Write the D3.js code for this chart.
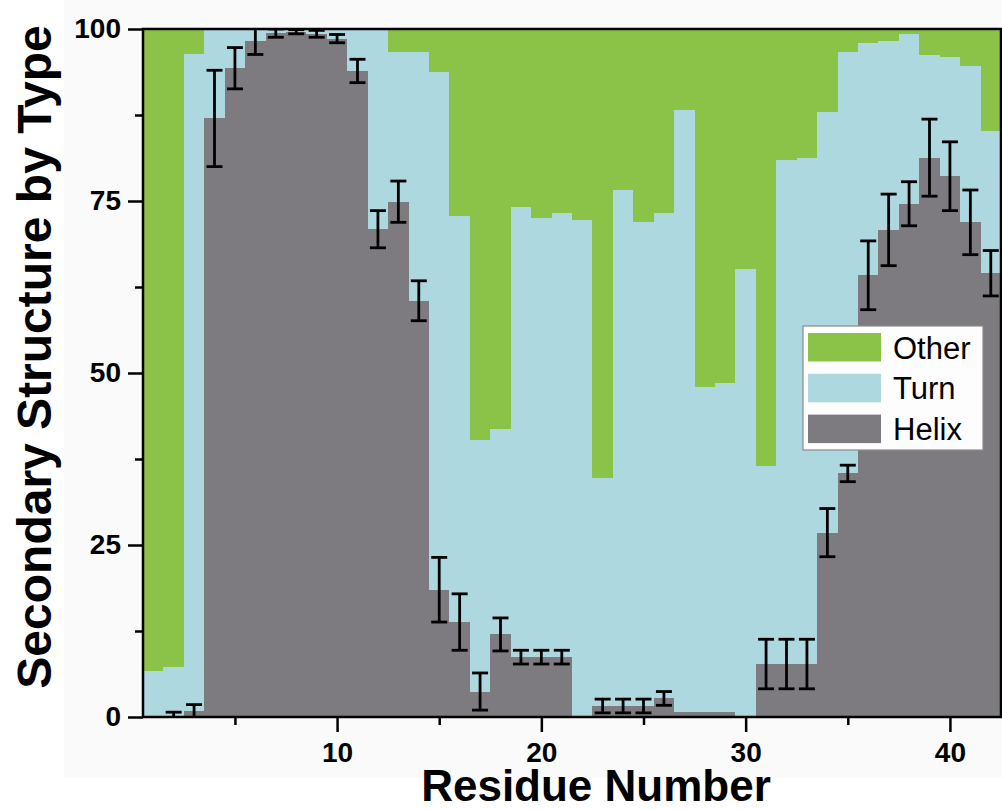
<!DOCTYPE html>
<html>
<head>
<meta charset="utf-8">
<script src="https://cdn.jsdelivr.net/npm/d3@7"></script>
<style>
  html, body { margin: 0; padding: 0; background: #ffffff; }
  svg { display: block; font-family: "Liberation Sans", Arial, sans-serif; }
</style>
</head>
<body>
<svg id="chart" width="1002" height="810"></svg>
<script>
// Residue numbers along the peptide
const residues = [1,2,3,4,5,6,7,8,9,10,11,12,13,14,15,16,17,18,19,20,21,
                  22,23,24,25,26,27,28,29,30,31,32,33,34,35,36,37,38,39,40,41,42];

// Percentage of each secondary-structure type per residue
const helix = [0, 0.2, 0.8, 87.0, 94.3, 98.3, 99.4, 99.6, 99.3, 98.6, 93.9, 70.9, 74.9, 60.5,
               18.5, 13.8, 3.7, 12.0, 8.7, 8.7, 8.7, 0, 1.6, 1.6, 1.6, 2.7, 0.7, 0.7,
               0.7, 0, 7.7, 7.7, 7.7, 26.8, 35.4, 64.2, 70.8, 74.6, 81.3, 78.6, 71.9, 64.5];
const turn = [6.7, 7.1, 95.5, 13.0, 5.7, 1.7, 0.6, 0.4, 0.7, 1.4, 6.1, 29.1, 21.8, 36.1,
              75.2, 59.0, 36.5, 29.8, 65.5, 63.9, 64.5, 72.2, 33.2, 75.0, 70.4, 70.6, 87.5, 47.2,
              47.8, 65.1, 28.8, 73.2, 73.6, 61.1, 61.2, 33.7, 27.4, 24.7, 14.9, 17.3, 22.7, 20.7];
const other = [93.3, 92.7, 3.7, 0, 0, 0, 0, 0, 0, 0, 0, 0, 3.3, 3.4,
               6.3, 27.2, 59.8, 58.2, 25.8, 27.4, 26.8, 27.8, 65.2, 23.4, 28.0, 26.7, 11.8, 52.1,
               51.5, 34.9, 63.5, 19.1, 18.7, 12.1, 3.4, 2.1, 1.8, 0.7, 3.8, 4.1, 5.4, 14.8];
// Standard error of the helix fraction
const helixErr = [0, 0.5, 1.0, 7.0, 3.0, 2.0, 0.6, 0.3, 0.5, 0.6, 1.7, 2.7, 3.0, 2.9,
                  4.7, 4.1, 2.7, 2.4, 1.0, 1.0, 1.0, 0, 1.0, 1.0, 1.0, 1.0, 0, 0,
                  0, 0, 3.6, 3.6, 3.6, 3.5, 1.2, 5.0, 5.2, 3.2, 5.6, 5.0, 4.7, 3.3];

const seriesKeys = ["Helix", "Turn", "Other"];
const legendOrder = ["Other", "Turn", "Helix"];
const yTicks = [0, 25, 50, 75, 100];
const yMinorTicks = [12.5, 37.5, 62.5, 87.5];
const xTicks = [10, 20, 30, 40];
const xMinorTicks = [5, 15, 25, 35];

const colors = { Helix: "#7d7b80", Turn: "#add8e0", Other: "#8bc248" };

const rows = residues.map((r, i) => ({
  residue: r, Helix: helix[i], Turn: turn[i], Other: other[i], err: helixErr[i]
}));

const svg = d3.select("#chart");
const plotLeft = 143, plotRight = 1001, plotTop = 29, plotBottom = 717;

const x = d3.scaleLinear().domain([0.5, 42.5]).range([plotLeft, plotRight]);
const y = d3.scaleLinear().domain([0, 100]).range([plotBottom, plotTop]);

// light backdrop behind the figure
svg.append("rect").attr("x", 64).attr("y", 0).attr("width", 1002 - 64).attr("height", 778)
  .attr("fill", "#fafafa");

svg.append("clipPath").attr("id", "plotClip")
  .append("rect").attr("x", plotLeft).attr("y", plotTop)
  .attr("width", plotRight - plotLeft).attr("height", plotBottom - plotTop);

const plot = svg.append("g").attr("clip-path", "url(#plotClip)");

// stacked bars, edge to edge
const stacked = d3.stack().keys(seriesKeys)(rows);
plot.selectAll("g.layer").data(stacked).join("g")
  .attr("class", "layer")
  .attr("fill", d => colors[d.key])
  .attr("shape-rendering", "crispEdges")
  .selectAll("rect").data(d => d).join("rect")
  .attr("x", d => Math.round(x(d.data.residue - 0.5)))
  .attr("width", d => Math.round(x(d.data.residue + 0.5)) - Math.round(x(d.data.residue - 0.5)))
  .attr("y", d => y(d[1]))
  .attr("height", d => Math.max(0, y(d[0]) - y(d[1])));

// helix error bars
const errRows = rows.filter(d => d.err > 0);
const eb = plot.append("g").attr("stroke", "#000").attr("stroke-width", 2.8).attr("fill", "none");
const capHalf = 8;
eb.selectAll("line.stem").data(errRows).join("line").attr("class", "stem")
  .attr("x1", d => x(d.residue)).attr("x2", d => x(d.residue))
  .attr("y1", d => y(d.Helix - d.err)).attr("y2", d => y(d.Helix + d.err));
eb.selectAll("line.capTop").data(errRows).join("line").attr("class", "capTop")
  .attr("x1", d => x(d.residue) - capHalf).attr("x2", d => x(d.residue) + capHalf)
  .attr("y1", d => y(d.Helix + d.err)).attr("y2", d => y(d.Helix + d.err));
eb.selectAll("line.capBot").data(errRows).join("line").attr("class", "capBot")
  .attr("x1", d => x(d.residue) - capHalf).attr("x2", d => x(d.residue) + capHalf)
  .attr("y1", d => y(d.Helix - d.err)).attr("y2", d => y(d.Helix - d.err));

// axes
const tickFont = g => g.selectAll("text")
  .attr("font-size", 28).attr("font-weight", "bold").attr("fill", "#000")
  .attr("font-family", "'Liberation Sans', Arial, sans-serif");
const tickStroke = g => g.selectAll("line").attr("stroke", "#000").attr("stroke-width", 2.5);

const yAxis = svg.append("g").attr("transform", `translate(${plotLeft},0)`)
  .call(d3.axisLeft(y).tickValues(yTicks).tickSize(15).tickPadding(7).tickFormat(d3.format("d")));
yAxis.select(".domain").remove();
yAxis.call(tickFont).call(tickStroke);

const yMinor = svg.append("g").attr("transform", `translate(${plotLeft},0)`)
  .call(d3.axisLeft(y).tickValues(yMinorTicks).tickSize(8).tickFormat(""));
yMinor.select(".domain").remove();
yMinor.call(tickStroke);

const xAxis = svg.append("g").attr("transform", `translate(0,${plotBottom})`)
  .call(d3.axisBottom(x).tickValues(xTicks).tickSize(15).tickPadding(10).tickFormat(d3.format("d")));
xAxis.select(".domain").remove();
xAxis.call(tickFont).call(tickStroke);

const xMinor = svg.append("g").attr("transform", `translate(0,${plotBottom})`)
  .call(d3.axisBottom(x).tickValues(xMinorTicks).tickSize(8).tickFormat(""));
xMinor.select(".domain").remove();
xMinor.call(tickStroke);

// frame
svg.append("rect").attr("x", plotLeft).attr("y", plotTop)
  .attr("width", plotRight - plotLeft).attr("height", plotBottom - plotTop)
  .attr("fill", "none").attr("stroke", "#000").attr("stroke-width", 2.5);

// axis titles
svg.append("text")
  .attr("transform", `translate(51,357) rotate(-90)`)
  .attr("text-anchor", "middle")
  .attr("font-size", 48).attr("font-weight", "bold").attr("fill", "#000")
  .text("Secondary Structure by Type");

svg.append("text")
  .attr("x", 596).attr("y", 801)
  .attr("text-anchor", "middle")
  .attr("font-size", 44).attr("font-weight", "bold").attr("fill", "#000")
  .text("Residue Number");

// legend
const legend = svg.append("g");
legend.append("rect").attr("x", 803).attr("y", 326).attr("width", 180).attr("height", 124)
  .attr("fill", "#fdfdfd").attr("stroke", "#8a8a8a").attr("stroke-width", 1.2);
const legendRows = legend.selectAll("g.item").data(legendOrder).join("g")
  .attr("class", "item")
  .attr("transform", (d, i) => `translate(808,${333 + i * 40.8})`);
legendRows.append("rect").attr("width", 73).attr("height", 28.5).attr("fill", d => colors[d]);
legendRows.append("text").attr("x", 85).attr("y", 25.5)
  .attr("font-size", 31).attr("fill", "#000").text(d => d);
</script>
</body>
</html>
